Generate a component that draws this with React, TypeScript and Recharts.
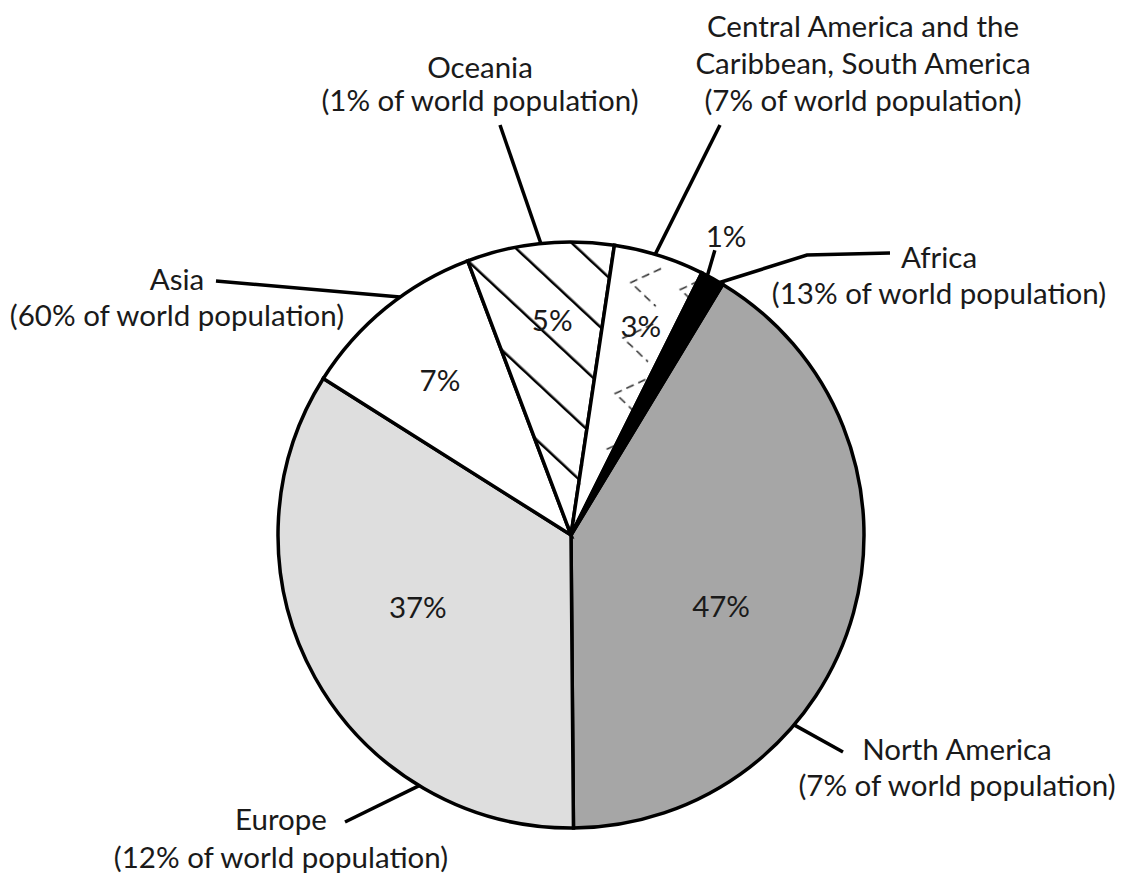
import React from 'react';
import { PieChart, Pie, Cell } from 'recharts';

// Regions in drawing order (clockwise from the top-right)
const regions = [
  'North America',
  'Europe',
  'Asia',
  'Oceania',
  'Central America and the Caribbean, South America',
  'Africa',
];
// Slice sizes as drawn in the figure (share of the circle, %)
const drawnShare = [41.2, 34.1, 10.3, 8.1, 5.0, 1.3];
// Percentages printed on the slices
const sliceLabels = ['47%', '37%', '7%', '5%', '3%', '1%'];
// Share of world population printed with each region
const populationShare = ['7%', '12%', '60%', '1%', '7%', '13%'];
// Region names as they are broken into lines
const nameLines = [
  ['North America'],
  ['Europe'],
  ['Asia'],
  ['Oceania'],
  ['Central America and the', 'Caribbean, South America'],
  ['Africa'],
];

const fills = ['#a6a6a6', '#dedede', '#ffffff', 'url(#hatchOceania)', 'url(#zigzagCentral)', '#000000'];

const data = regions.map((name, i) => ({ name, value: drawnShare[i] }));

const W = 1128;
const H = 876;
const CX = 571;
const CY = 535;
const R = 293;
const RAD = Math.PI / 180;
const START = 31.2; // degrees clockwise from 12 o'clock where North America begins

const FONT = 'Lato, "Open Sans", sans-serif';
const FS = 29.5;
const INK = '#1a1a1a';

type Lay = {
  inR: number; inA: number;
  rimA: number; leader: [number, number][];
  tx: number; ty: number[];
  tick?: [number, number, number, number];
};
const layout: Lay[] = [
  { inR: 166, inA: 115.3, rimA: 130.4, leader: [[843, 752]], tx: 957, ty: [760, 796] },
  { inR: 169, inA: -115, rimA: 211.2, leader: [[345, 822]], tx: 281, ty: [830, 868] },
  { inR: 203, inA: -40.2, rimA: -35.7, leader: [[216, 281]], tx: 177, ty: [290, 326] },
  { inR: 216, inA: -5, rimA: -5.9, leader: [[500, 125]], tx: 480, ty: [78, 111] },
  { inR: 221, inA: 18.4, rimA: 16.7, leader: [[720, 125]], tx: 863, ty: [37, 74, 111] },
  { inR: 337, inA: 27.4, rimA: 30.5, leader: [[807, 255], [890, 253]], tx: 939, ty: [268, 304], tick: [291.6, 27.8, 319, 26.8] },
];

function renderLabel(props: any) {
  const { cx, cy, outerRadius, index } = props;
  const L = layout[index];
  const pt = (r: number, deg: number): [number, number] => [
    cx + r * Math.sin(deg * RAD),
    cy - r * Math.cos(deg * RAD),
  ];
  const [ix, iy] = pt(L.inR, L.inA);
  const rim = pt(outerRadius, L.rimA);
  const pts = [rim, ...L.leader];
  const lines = [...nameLines[index], `(${populationShare[index]} of world population)`];
  const tick = L.tick ? [pt(L.tick[0], L.tick[1]), pt(L.tick[2], L.tick[3])] : null;
  return (
    <g key={`lab-${index}`}>
      <text x={ix} y={iy} textAnchor="middle" dominantBaseline="central" fontFamily={FONT} fontSize={FS} fill={INK}>
        {sliceLabels[index]}
      </text>
      {tick && (
        <line x1={tick[0][0]} y1={tick[0][1]} x2={tick[1][0]} y2={tick[1][1]} stroke="#000" strokeWidth={3.5} />
      )}
      <polyline points={pts.map((p) => p.join(',')).join(' ')} fill="none" stroke="#000" strokeWidth={3.5} />
      {lines.map((t, k) => (
        <text key={k} x={L.tx} y={L.ty[k]} textAnchor="middle" fontFamily={FONT} fontSize={FS} fill={INK}>
          {t}
        </text>
      ))}
    </g>
  );
}

export default function App() {
  return (
    <div style={{ position: 'absolute', left: 0, top: 0, width: W, height: H, background: '#fff' }}>
      <svg width={0} height={0} style={{ position: 'absolute' }}>
        <defs>
          <pattern id="hatchOceania" patternUnits="userSpaceOnUse" width={42} height={42} patternTransform="rotate(43)">
            <rect x={0} y={0} width={42} height={42} fill="#fff" />
            <line x1={-5} y1={39.7} x2={47} y2={39.7} stroke="#000" strokeWidth={2.6} />
            <line x1={-5} y1={-2.3} x2={47} y2={-2.3} stroke="#000" strokeWidth={2.6} />
          </pattern>
          <pattern id="zigzagCentral" patternUnits="userSpaceOnUse" width={50} height={56} patternTransform="rotate(8)">
            <rect x={0} y={0} width={50} height={56} fill="#fff" />
            <polyline points="42,6 14,24 42,44" fill="none" stroke="#333" strokeWidth={1.6} strokeDasharray="8 5" />
          </pattern>
        </defs>
      </svg>
      <PieChart width={W} height={H} margin={{ top: 0, right: 0, bottom: 0, left: 0 }}>
        <Pie
          data={data}
          dataKey="value"
          nameKey="name"
          cx={CX}
          cy={CY}
          outerRadius={R}
          innerRadius={0}
          startAngle={90 - START}
          endAngle={90 - START - 360}
          stroke="#000"
          strokeWidth={3.5}
          label={renderLabel}
          labelLine={false}
          isAnimationActive={false}
        >
          {data.map((d, i) => (
            <Cell key={d.name} fill={fills[i]} stroke="#000" strokeWidth={3.5} />
          ))}
        </Pie>
      </PieChart>
    </div>
  );
}
